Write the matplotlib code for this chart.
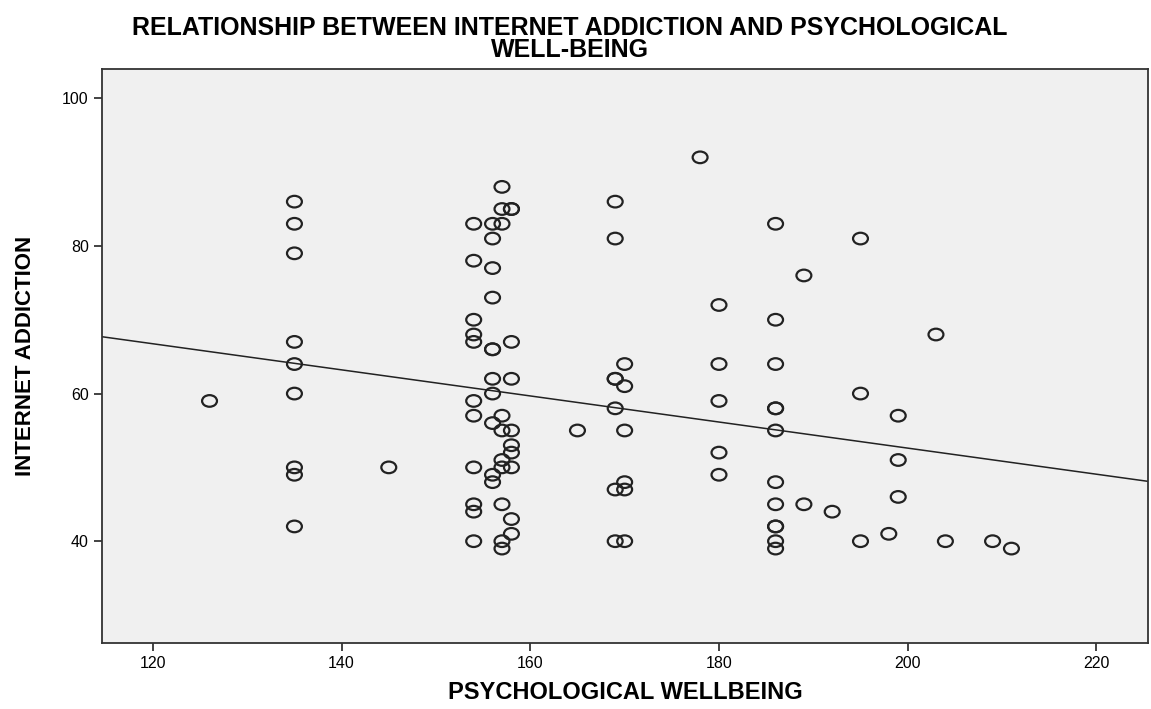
import numpy as np
import matplotlib
matplotlib.use('Agg')
import matplotlib.pyplot as plt
from matplotlib.path import Path

plt.rcParams['font.family'] = ['Liberation Sans', 'DejaVu Sans']

# psychological wellbeing score (x) and internet addiction score (y), one pair per respondent
wellbeing = [126,
             135, 135, 135, 135, 135, 135, 135, 135, 135,
             145,
             154, 154, 154, 154, 154, 154, 154, 154, 154, 154, 154,
             156, 156, 156, 156, 156, 156, 156, 156, 156, 156, 156,
             157, 157, 157, 157, 157, 157, 157, 157, 157, 157,
             158, 158, 158, 158, 158, 158, 158, 158, 158, 158,
             165,
             169, 169, 169, 169, 169, 169, 169,
             170, 170, 170, 170, 170, 170,
             178,
             180, 180, 180, 180, 180,
             186, 186, 186, 186, 186, 186, 186, 186, 186, 186, 186, 186,
             189, 189,
             192,
             195, 195, 195,
             198,
             199, 199, 199,
             203, 204, 209, 211]
addiction = [59,
             86, 83, 79, 67, 64, 60, 50, 49, 42,
             50,
             83, 78, 70, 68, 67, 59, 57, 50, 45, 44, 40,
             83, 81, 77, 73, 66, 66, 62, 60, 56, 49, 48,
             88, 85, 83, 57, 55, 51, 50, 45, 40, 39,
             85, 67, 62, 55, 53, 52, 50, 43, 41, 85,
             55,
             86, 81, 62, 62, 58, 47, 40,
             64, 61, 55, 48, 47, 40,
             92,
             72, 64, 59, 52, 49,
             83, 70, 64, 58, 58, 55, 48, 45, 42, 42, 40, 39,
             76, 45,
             44,
             81, 60, 40,
             41,
             57, 51, 46,
             68, 40, 40, 39]

# fit line (total sample): addiction = intercept + slope * wellbeing
fit_intercept = 87.95
fit_slope = -0.1767

x_ticks = [120, 140, 160, 180, 200, 220]
y_ticks = [40, 60, 80, 100]

# slightly flattened ring marker
circ = Path.unit_circle()
ring = Path(circ.vertices * [1.0, 0.78], circ.codes)

fig = plt.figure(figsize=(11.51, 7.09), dpi=100)
ax = fig.add_axes([0.0886, 0.093, 0.909, 0.81])
ax.set_facecolor('#f0f0f0')

ax.scatter(wellbeing, addiction, s=115, marker=ring, facecolors='none',
           edgecolors='#222222', linewidths=1.6, zorder=3)

xs = np.array([114.6, 225.5])
ax.plot(xs, fit_intercept + fit_slope * xs, color='#222222', lw=1.1, zorder=2)

ax.set_xlim(114.6, 225.5)
ax.set_ylim(26.2, 104)
ax.set_xticks(x_ticks)
ax.set_yticks(y_ticks)
ax.tick_params(direction='out', length=6, width=1.2, labelsize=11.5, color='#222222')
for s in ax.spines.values():
    s.set_color('#333333')
    s.set_linewidth(1.3)

ax.set_xlabel('PSYCHOLOGICAL WELLBEING', fontsize=17, fontweight='bold', labelpad=7)
ax.set_ylabel('INTERNET ADDICTION', fontsize=16, fontweight='bold')
ax.yaxis.set_label_coords(-0.063, 0.5)
fig.text(0.495, 0.913, 'RELATIONSHIP BETWEEN INTERNET ADDICTION AND PSYCHOLOGICAL\nWELL-BEING',
         ha='center', va='bottom', fontsize=18, fontweight='bold', linespacing=0.9)

fig.savefig('out.png', dpi=100)
